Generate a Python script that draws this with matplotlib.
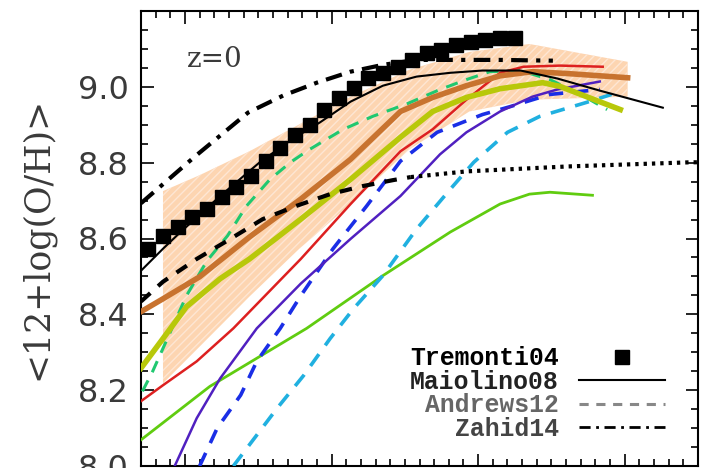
import matplotlib
matplotlib.use('Agg')
import matplotlib.pyplot as plt
from matplotlib.lines import Line2D
from matplotlib.ticker import MultipleLocator, FixedLocator

# observations
trem_x = [8.75, 8.85, 8.95, 9.05, 9.15, 9.25, 9.35, 9.45, 9.55, 9.65, 9.75, 9.85, 9.95,
          10.05, 10.15, 10.25, 10.35, 10.45, 10.55, 10.65, 10.75, 10.85, 10.95, 11.05, 11.15, 11.25]
trem_y = [8.572, 8.606, 8.630, 8.656, 8.677, 8.709, 8.735, 8.765, 8.805, 8.840, 8.874, 8.900, 8.940,
          8.971, 8.997, 9.024, 9.037, 9.052, 9.071, 9.089, 9.097, 9.110, 9.118, 9.123, 9.129, 9.129]

maio_x = [8.70, 8.85, 8.97, 9.24, 9.51, 9.72, 9.92, 10.13, 10.35, 10.58, 10.81, 11.03, 11.29, 11.54, 11.83, 12.26]
maio_y = [8.515, 8.573, 8.617, 8.712, 8.801, 8.859, 8.906, 8.961, 9.003, 9.027, 9.037, 9.043, 9.043, 9.022, 8.990, 8.945]

zahid_x = [8.70, 9.07, 9.43, 9.67, 9.90, 10.13, 10.35, 10.58, 10.88, 11.15, 11.51]
zahid_y = [8.693, 8.817, 8.932, 8.977, 9.011, 9.040, 9.058, 9.071, 9.071, 9.071, 9.069]

andr_x = [8.70, 8.85, 9.08, 9.31, 9.53, 9.76, 9.99, 10.21, 10.42, 10.54]
andr_y = [8.434, 8.486, 8.546, 8.599, 8.651, 8.686, 8.717, 8.738, 8.754, 8.762]
andr_ext_x = [10.54, 10.92, 11.61, 12.45, 12.51]
andr_ext_y = [8.762, 8.777, 8.790, 8.801, 8.801]

# scatter band
band_x = [8.85, 9.10, 9.44, 9.78, 10.13, 10.53, 10.94, 11.35, 12.02]
band_lo = [8.218, 8.315, 8.447, 8.573, 8.691, 8.835, 8.935, 8.966, 8.974]
band_hi = [8.725, 8.767, 8.830, 8.901, 8.974, 9.045, 9.092, 9.113, 9.066]

# models
gdash_x = [8.71, 8.78, 8.88, 9.01, 9.15, 9.29, 9.42, 9.58, 9.72, 9.85, 10.08, 10.28, 10.52, 10.74,
           10.92, 11.08, 11.29, 11.49, 11.70, 11.88]
gdash_y = [8.197, 8.250, 8.336, 8.449, 8.541, 8.607, 8.686, 8.756, 8.801, 8.835, 8.888, 8.922, 8.956,
           8.993, 9.019, 9.040, 9.043, 9.019, 8.980, 8.940]

brown_x = [8.70, 8.85, 9.10, 9.44, 9.79, 10.13, 10.47, 10.69, 10.92, 11.15, 11.37, 11.61, 12.02]
brown_y = [8.407, 8.441, 8.499, 8.604, 8.704, 8.809, 8.935, 8.972, 9.003, 9.029, 9.040, 9.035, 9.024]

ygreen_x = [8.70, 8.85, 9.01, 9.24, 9.44, 9.79, 10.13, 10.47, 10.69, 10.92, 11.15, 11.44, 11.56, 11.74, 11.97]
ygreen_y = [8.258, 8.336, 8.420, 8.494, 8.546, 8.651, 8.756, 8.867, 8.935, 8.972, 8.995, 9.011, 9.001, 8.974, 8.940]

red_x = [8.70, 8.85, 9.08, 9.33, 9.79, 10.13, 10.47, 10.69, 10.92, 11.15, 11.31, 11.56, 11.85]
red_y = [8.171, 8.213, 8.276, 8.363, 8.546, 8.691, 8.830, 8.888, 8.966, 9.037, 9.053, 9.056, 9.053]

purple_x = [8.93, 9.08, 9.24, 9.49, 9.79, 10.13, 10.47, 10.74, 10.92, 11.15, 11.37, 11.54, 11.83]
purple_y = [8.000, 8.126, 8.231, 8.363, 8.481, 8.599, 8.712, 8.822, 8.880, 8.935, 8.974, 8.993, 9.014]

bdash_x = [9.10, 9.22, 9.38, 9.49, 9.65, 9.79, 10.01, 10.24, 10.47, 10.72, 11.03, 11.22, 11.49, 11.83]
bdash_y = [8.000, 8.100, 8.187, 8.276, 8.363, 8.449, 8.573, 8.686, 8.804, 8.880, 8.927, 8.948, 8.980, 8.993]

cdash_x = [9.33, 9.63, 9.81, 9.99, 10.15, 10.35, 10.58, 10.81, 10.97, 11.20, 11.42, 11.74, 11.91]
cdash_y = [8.000, 8.153, 8.239, 8.336, 8.415, 8.502, 8.625, 8.730, 8.801, 8.880, 8.922, 8.959, 8.980]

lgreen_x = [8.70, 9.17, 9.83, 10.35, 10.81, 11.15, 11.35, 11.49, 11.78]
lgreen_y = [8.069, 8.210, 8.363, 8.502, 8.617, 8.691, 8.717, 8.722, 8.714]

yticks = [8.0, 8.2, 8.4, 8.6, 8.8, 9.0]
leg_labels = ['Tremonti04', 'Maiolino08', 'Andrews12', 'Zahid14']

fig = plt.figure(figsize=(7.02, 4.68), dpi=100)
ax = fig.add_axes([141 / 702, 2 / 468, 557 / 702, 455 / 468])

ax.fill_between(band_x, band_lo, band_hi, facecolor='#fdd5b1', edgecolor='#fee6d4',
                hatch='////', linewidth=0, zorder=1)

ax.plot(gdash_x, gdash_y, color='#20c870', lw=2.2, ls=(0, (4, 3)), zorder=3)
ax.plot(lgreen_x, lgreen_y, color='#60cc10', lw=2, zorder=3)
ax.plot(cdash_x, cdash_y, color='#20b0e0', lw=2.6, ls=(0, (4, 3)), zorder=3)
ax.plot(bdash_x, bdash_y, color='#1a2ee6', lw=2.6, ls=(0, (4, 3)), zorder=3)
ax.plot(purple_x, purple_y, color='#5020c0', lw=1.8, zorder=3)
ax.plot(red_x, red_y, color='#dd2020', lw=1.8, zorder=3)
ax.plot(ygreen_x, ygreen_y, color='#b8c80a', lw=4, zorder=4)
ax.plot(brown_x, brown_y, color='#c8732f', lw=4, zorder=4)

ax.plot(maio_x, maio_y, color='black', lw=1.5, zorder=5)
ax.plot(andr_x, andr_y, color='black', lw=3, ls=(0, (3, 2.5)), zorder=5)
ax.plot(andr_ext_x, andr_ext_y, color='black', lw=3, ls=(0, (0.8, 1.2)), zorder=5)
ax.plot(zahid_x, zahid_y, color='black', lw=3, ls=(0, (4, 2, 1, 2)), zorder=5)
ax.plot(trem_x, trem_y, 's', color='black', ms=10, zorder=6)

ax.set_xlim(8.7, 12.5)
ax.set_ylim(8.0, 9.2)
ax.xaxis.set_major_locator(MultipleLocator(1))
ax.xaxis.set_minor_locator(MultipleLocator(0.1))
ax.yaxis.set_major_locator(FixedLocator(yticks))
ax.yaxis.set_minor_locator(MultipleLocator(0.05))
ax.tick_params(which='both', direction='in', top=True, right=True, width=1.2,
               labelbottom=False, labelsize=23, labelcolor='#3a3a3a', pad=9)
ax.tick_params(which='major', length=9)
ax.tick_params(which='minor', length=5)
for lab in ax.get_yticklabels():
    lab.set_fontfamily('DejaVu Sans')
for s in ax.spines.values():
    s.set_linewidth(1.5)

ax.set_ylabel('<12+log(O/H)>', fontsize=25, family='DejaVu Serif', color='#3a3a3a', labelpad=17)
ax.text(0.083, 0.893, 'z=0', transform=ax.transAxes, fontsize=20, family='DejaVu Serif',
        color='#3a3a3a', va='center')

handles = [Line2D([], [], ls='none', marker='s', color='black', ms=10),
           Line2D([], [], color='black', lw=1.5),
           Line2D([], [], color='#888888', lw=2.2, ls=(0, (3, 2.5))),
           Line2D([], [], color='black', lw=2, ls=(0, (4, 2, 1, 2)))]
leg = ax.legend(handles, leg_labels, loc='lower right', bbox_to_anchor=(0.941, 0.055),
                frameon=False, markerfirst=False, handlelength=3.5, handletextpad=0.8,
                labelspacing=-0.02, borderpad=0, borderaxespad=0, numpoints=1,
                prop={'family': 'Liberation Mono', 'weight': 'bold', 'size': 17.8})
for t, c in zip(leg.get_texts(), ['black', '#222222', '#666666', '#444444']):
    t.set_color(c)

fig.savefig('out.png', dpi=100)
